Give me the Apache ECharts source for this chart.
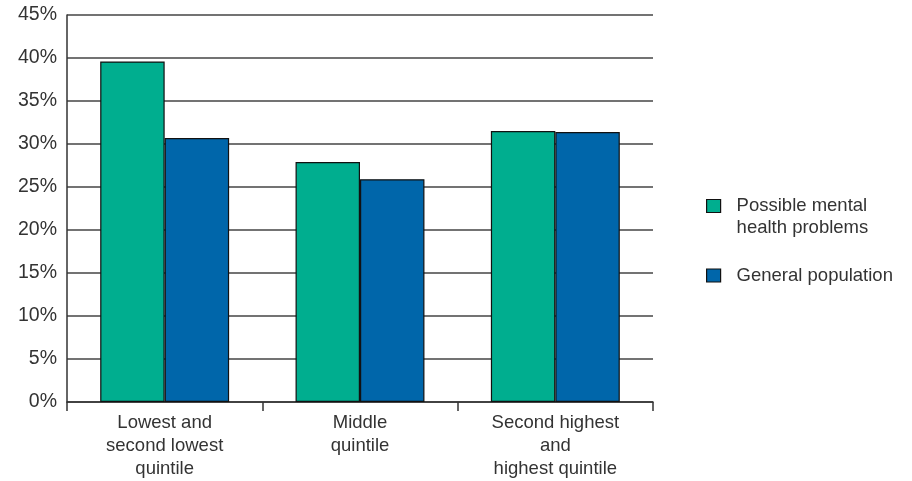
<!DOCTYPE html>
<html><head><meta charset="utf-8">
<script src="https://cdn.jsdelivr.net/npm/echarts@6/dist/echarts.min.js"></script>
<style>html,body{margin:0;padding:0;background:#fff}#c{width:912px;height:481px}</style>
</head><body><div id="c"></div>
<script>
const categories = ['Lowest and\nsecond lowest\nquintile', 'Middle\nquintile', 'Second highest\nand\nhighest quintile'];
const mentalHealth = [39.6, 27.9, 31.5];
const generalPop = [30.7, 25.9, 31.4];
const seriesNames = ['Possible mental health problems', 'General population'];
const legendLines = {
  'Possible mental health problems': ['Possible mental', 'health problems'],
  'General population': ['General population']
};
const yTicks = [0, 5, 10, 15, 20, 25, 30, 35, 40, 45];

const chart = echarts.init(document.getElementById('c'), null, {renderer: 'canvas'});
const font = 'Helvetica, "Liberation Sans", Arial, sans-serif';
const txt = '#333';
chart.setOption({
  animation: false,
  backgroundColor: '#fff',
  textStyle: {fontFamily: font},
  grid: {left: 67, right: 259, top: 15, bottom: 79, containLabel: false, outerBoundsMode: 'none'},
  legend: {
    orient: 'vertical', left: 706, top: 174.5, padding: 0,
    itemWidth: 14, itemHeight: 13, itemGap: 28.5,
    icon: 'rect',
    itemStyle: {borderColor: '#111', borderWidth: 1.2},
    formatter: name => {
      const lines = legendLines[name];
      if (lines.length > 1) {
        return '{s| }\n' + lines.map(l => '{a|' + l + '}').join('\n');
      }
      return '{a|' + lines[0] + '}';
    },
    textStyle: {
      fontSize: 18.5, color: txt, fontFamily: font, padding: [0, 0, 0, 11],
      rich: {
        a: {fontSize: 18.5, color: txt, fontFamily: font, lineHeight: 22},
        s: {fontSize: 18.5, lineHeight: 22, color: 'rgba(0,0,0,0)'}
      }
    },
    data: seriesNames
  },
  xAxis: {
    type: 'category', data: categories,
    axisLine: {show: true, lineStyle: {color: '#333', width: 1.5}},
    axisTick: {show: true, length: 9, lineStyle: {color: '#333', width: 1.5}},
    axisLabel: {fontSize: 18.5, color: txt, lineHeight: 23, margin: 9, fontFamily: font}
  },
  yAxis: {
    type: 'value', min: 0, max: 45, interval: 5,
    axisLine: {show: true, lineStyle: {color: '#333', width: 1.5}},
    axisTick: {show: false},
    axisLabel: {fontSize: 19.5, color: txt, margin: 10, fontFamily: font,
      formatter: v => yTicks.includes(v) ? v + '%' : ''},
    splitLine: {show: true, lineStyle: {color: '#444', width: 1.5}}
  },
  series: [
    {name: seriesNames[0], type: 'bar', data: mentalHealth, barGap: '0%', barCategoryGap: '34%',
     itemStyle: {color: '#00AE8F', borderColor: '#111', borderWidth: 1.2}},
    {name: seriesNames[1], type: 'bar', data: generalPop, barGap: '0%', barCategoryGap: '34%',
     itemStyle: {color: '#0066AA', borderColor: '#111', borderWidth: 1.2}}
  ]
});
</script></body></html>
